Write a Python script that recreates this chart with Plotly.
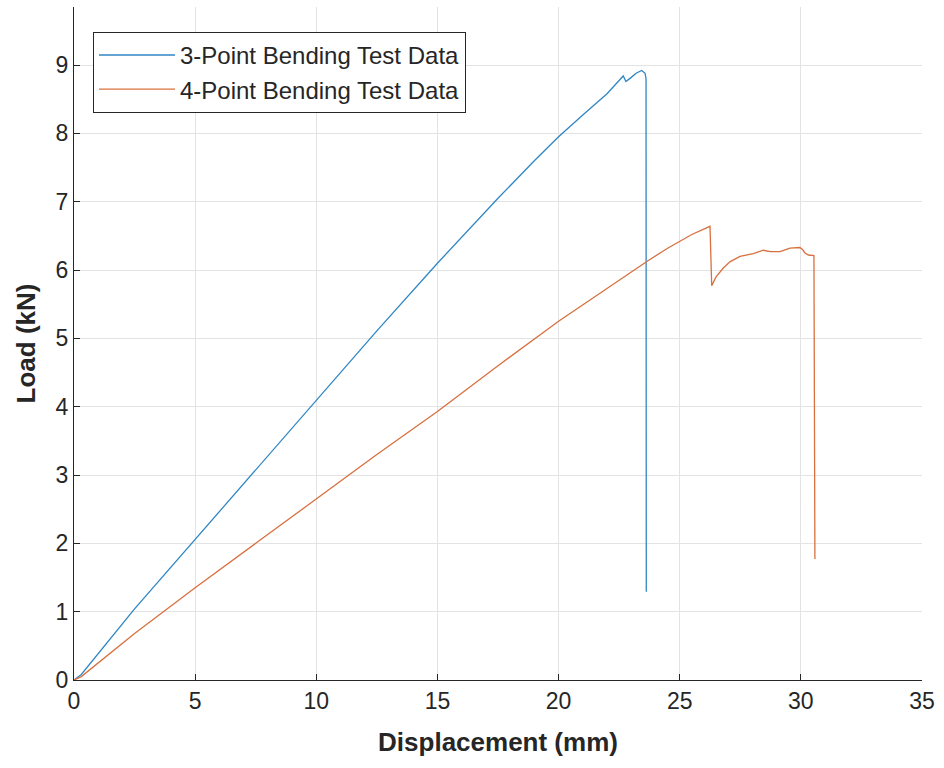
import plotly.graph_objects as go

# 3-point bending test data (displacement mm, load kN)
disp_3pt = [0, 0.3, 2.5, 5, 7.5, 10, 12.5, 15, 17.5, 19, 20, 21, 22, 22.67,
            22.78, 23.0, 23.2, 23.43, 23.57, 23.61, 23.62]
load_3pt = [0, 0.08, 1.04, 2.06, 3.08, 4.1, 5.11, 6.1, 7.05, 7.6, 7.95, 8.27, 8.58, 8.84,
            8.76, 8.82, 8.88, 8.92, 8.88, 8.8, 1.29]

# 4-point bending test data
disp_4pt = [0, 0.3, 2.5, 5, 7.5, 10, 12.5, 15, 17.5, 20, 22.5, 23.66, 24.5, 25.5, 26.25,
            26.32, 26.5, 26.8, 27.07, 27.49, 28.04, 28.45, 28.73, 29.14, 29.55, 29.96,
            30.07, 30.17, 30.31, 30.54, 30.58]
load_4pt = [0, 0.05, 0.68, 1.35, 2.0, 2.65, 3.3, 3.93, 4.6, 5.25, 5.86, 6.13, 6.32, 6.52, 6.64,
            5.77, 5.9, 6.03, 6.12, 6.2, 6.24, 6.29, 6.27, 6.27, 6.32, 6.33,
            6.3, 6.25, 6.22, 6.21, 1.77]

x_ticks = [0, 5, 10, 15, 20, 25, 30, 35]
y_ticks = [0, 1, 2, 3, 4, 5, 6, 7, 8, 9]

FONT = "Liberation Sans, Arial, sans-serif"

fig = go.Figure()
fig.add_trace(go.Scatter(x=disp_3pt, y=load_3pt, mode="lines",
                         name="3-Point Bending Test Data",
                         line=dict(color="#2f86c4", width=1.3)))
fig.add_trace(go.Scatter(x=disp_4pt, y=load_4pt, mode="lines",
                         name="4-Point Bending Test Data",
                         line=dict(color="#d8703f", width=1.3)))

axis_common = dict(
    showgrid=True, gridcolor="#e3e3e3", gridwidth=1,
    showline=True, linecolor="#262626", linewidth=1.2,
    ticks="inside", ticklen=6, tickcolor="#262626", tickwidth=1.2,
    zeroline=False, mirror=False,
    tickfont=dict(family=FONT, size=23, color="#262626"),
)

fig.update_layout(
    width=944, height=768,
    margin=dict(l=74, r=22, t=7, b=88),
    paper_bgcolor="white", plot_bgcolor="white",
    xaxis=dict(range=[0, 35], tickvals=x_ticks,
               title=dict(text="<b>Displacement (mm)</b>", standoff=20,
                          font=dict(family=FONT, size=26, color="#262626")),
               **axis_common),
    yaxis=dict(range=[0, 9.85], tickvals=y_ticks,
               title=dict(text="<b>Load (kN)</b>", standoff=12,
                          font=dict(family=FONT, size=26, color="#262626")),
               **axis_common),
    legend=dict(x=0.0224, y=0.963, xanchor="left", yanchor="top",
                bgcolor="white", bordercolor="#262626", borderwidth=1,
                font=dict(family=FONT, size=24, color="#262626"),
                itemwidth=76, tracegroupgap=0),
    showlegend=True,
)

fig.write_html("out.html")
